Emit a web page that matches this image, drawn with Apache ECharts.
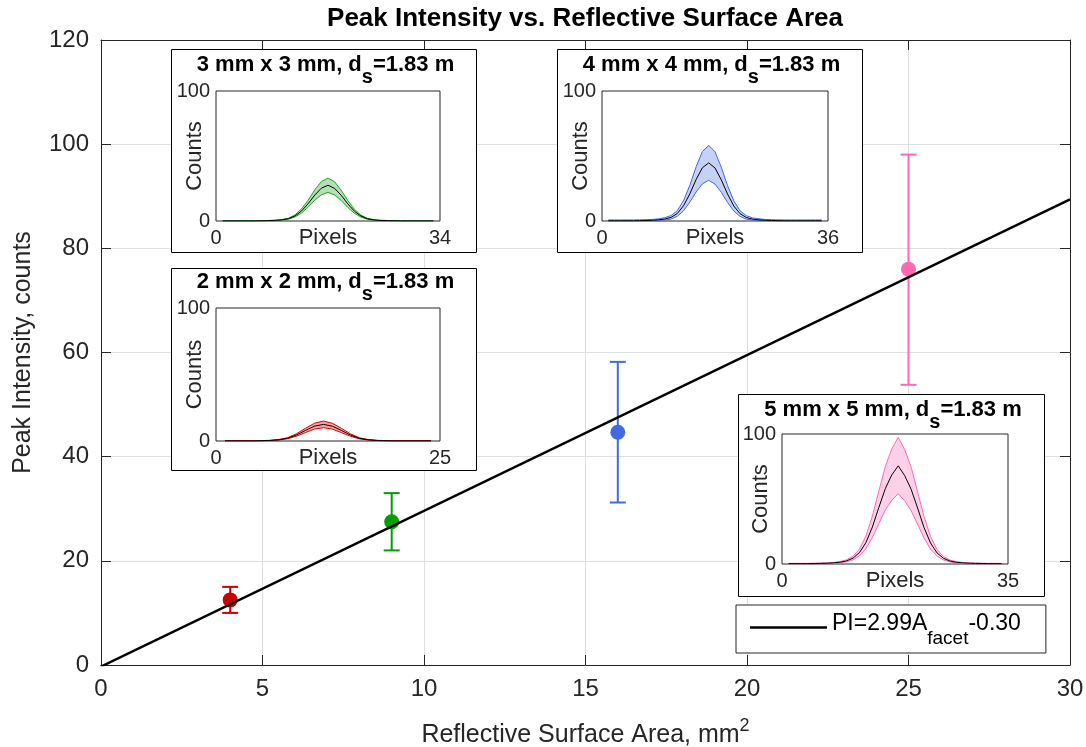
<!DOCTYPE html>
<html>
<head>
<meta charset="utf-8">
<title>Peak Intensity vs. Reflective Surface Area</title>
<script src="https://cdn.jsdelivr.net/npm/echarts@6/dist/echarts.min.js"></script>
<style>
  html, body { margin: 0; padding: 0; background: #fff; }
  #main { width: 1086px; height: 747px; }
</style>
</head>
<body>
<div id="main"></div>
<script>
// ---- main plot data ----
const area = [4, 9, 16, 25]            // facet area, mm^2
const peak = [12.5, 27.5, 44.7, 76.0]  // mean peak intensity
const peakLow = [10.0, 22.0, 31.2, 53.8]
const peakHigh = [15.0, 33.0, 58.2, 98.0]
const fitX = [0, 30]
const fitY = [-0.30, 89.40]
const fitLabel = 'PI=2.99A_facet-0.30'

// ---- inset profiles (counts per pixel, starting at pixel 1) ----
const pxMax2 = 25
const mean2 = [0.1,0.1,0.1,0.1,0.2,0.4,0.9,2.1,4.6,8.0,11.2,12.5,11.1,7.9,4.5,2.0,0.9,0.4,0.2,0.1,0.1,0.1,0.1,0.1]
const hi2 = [0.2,0.2,0.2,0.2,0.3,0.5,1.1,2.5,5.5,9.6,13.4,15.0,13.3,9.5,5.4,2.4,1.1,0.5,0.3,0.2,0.2,0.2,0.2,0.2]
const lo2 = [0,0,0,0,0.1,0.3,0.7,1.7,3.7,6.4,9.0,10.0,8.9,6.3,3.6,1.6,0.7,0.3,0.1,0,0,0,0,0]

const pxMax3 = 34
const mean3 = [0.1,0.1,0.1,0.1,0.1,0.1,0.2,0.3,0.5,0.9,1.8,3.9,7.8,13.4,20.0,25.3,27.5,25.1,19.8,13.2,7.6,3.8,1.7,0.8,0.4,0.3,0.2,0.1,0.1,0.1,0.1,0.1,0.1]
const hi3 = [0.2,0.2,0.2,0.2,0.2,0.2,0.3,0.4,0.6,1.1,2.2,4.7,9.4,16.1,24.0,30.4,33.0,30.2,23.7,15.8,9.1,4.5,2.1,1.0,0.6,0.4,0.3,0.2,0.2,0.2,0.2,0.2,0.2]
const lo3 = [0,0,0,0,0,0,0.1,0.2,0.4,0.7,1.4,3.1,6.2,10.7,16.0,20.2,22.0,20.0,15.8,10.5,6.0,3.0,1.3,0.6,0.3,0.2,0.1,0,0,0,0,0,0]

const pxMax4 = 36
const mean4 = [0.2,0.2,0.2,0.2,0.2,0.3,0.4,0.6,0.9,1.5,2.8,5.8,11.8,21.0,32.0,41.0,44.7,40.8,31.7,20.7,11.5,5.6,2.7,1.4,0.9,0.6,0.4,0.3,0.2,0.2,0.2,0.2,0.2,0.2,0.2]
const hi4 = [0.8,0.8,0.8,0.8,0.8,0.9,1.0,1.2,1.7,2.5,4.2,8.0,15.8,27.6,41.8,53.5,58.2,53.2,41.4,27.2,15.5,7.8,4.1,2.4,1.7,1.2,1.0,0.9,0.8,0.8,0.8,0.8,0.8,0.8,0.8]
const lo4 = [0,0,0,0,0,0,0.1,0.2,0.4,0.7,1.5,3.6,7.9,14.6,22.3,28.6,31.3,28.4,22.0,14.3,7.7,3.5,1.4,0.7,0.4,0.2,0.1,0,0,0,0,0,0,0,0]

const pxMax5 = 35
const mean5 = [0.3,0.3,0.3,0.3,0.4,0.5,0.6,0.9,1.4,2.4,4.5,8.8,16.5,28.5,43.5,58.0,68.5,75.5,68.0,57.5,43.0,28.0,16.2,8.6,4.4,2.3,1.3,0.9,0.6,0.5,0.4,0.3,0.3,0.3]
const hi5 = [0.5,0.5,0.5,0.5,0.6,0.7,0.9,1.2,1.9,3.2,6.0,11.5,21.5,37.0,56.0,75.0,88.5,97.5,88.0,74.5,55.5,36.5,21.0,11.2,5.8,3.1,1.8,1.2,0.9,0.7,0.6,0.5,0.5,0.5]
const lo5 = [0.1,0.1,0.1,0.1,0.2,0.3,0.4,0.6,1.0,1.7,3.2,6.3,11.8,20.4,31.0,41.5,49.0,54.0,48.6,41.0,30.6,20.0,11.5,6.1,3.1,1.6,0.9,0.6,0.4,0.3,0.2,0.1,0.1,0.1]

// ---- styling / layout ----
const FONT = '"Liberation Sans", Arial, Helvetica, sans-serif'
const AX = '#262626'
const GRIDC = '#dfdfdf'
const ptColors = ['#cc0000', '#00a000', '#4169e1', '#ff69b4']

const insets = [
  { size: '3 mm x 3 mm', maxX: pxMax3, mean: mean3, hi: hi3, lo: lo3, color: '#1fa61f', fill: '#b3e0b3',
    box: [171, 49, 305, 203], grid: [216, 91, 224, 130], titleY: 65 },
  { size: '4 mm x 4 mm', maxX: pxMax4, mean: mean4, hi: hi4, lo: lo4, color: '#4169e1', fill: '#c6d1f6',
    box: [557, 49, 305, 203], grid: [602, 91, 226, 130], titleY: 65 },
  { size: '2 mm x 2 mm', maxX: pxMax2, mean: mean2, hi: hi2, lo: lo2, color: '#e00000', fill: '#f4a8a8',
    box: [171, 268, 305, 202], grid: [216, 308, 224, 133], titleY: 282 },
  { size: '5 mm x 5 mm', maxX: pxMax5, mean: mean5, hi: hi5, lo: lo5, color: '#ff69b4', fill: '#ffd1e8',
    box: [738, 394, 306, 202], grid: [782, 434, 226, 130], titleY: 410 }
]

const chart = echarts.init(document.getElementById('main'))

const grids = [{ left: 101, top: 40, width: 969, height: 625, outerBoundsMode: 'none' }]
const xAxes = [
  {
    gridIndex: 0, type: 'value', min: 0, max: 30, interval: 5, position: 'bottom',
    axisLine: { show: true, onZero: false, lineStyle: { color: AX, width: 1 } },
    axisTick: { inside: true, length: 10, lineStyle: { color: AX } },
    axisLabel: { fontSize: 24, color: AX, margin: 12, fontFamily: FONT },
    splitLine: { show: true, lineStyle: { color: GRIDC, width: 1 } },
    name: '{a|Reflective Surface Area, mm}{sup|2}',
    nameLocation: 'middle', nameGap: 52, nameMoveOverlap: false,
    nameTextStyle: {
      verticalAlign: 'top',
      rich: {
        a: { fontSize: 25, color: AX, fontFamily: FONT },
        sup: { fontSize: 18, color: AX, fontFamily: FONT, padding: [0, 0, 18, 0] }
      }
    }
  },
  {
    gridIndex: 0, type: 'value', min: 0, max: 30, interval: 5, position: 'top',
    axisLine: { show: true, onZero: false, lineStyle: { color: AX, width: 1 } },
    axisTick: { inside: true, length: 10, lineStyle: { color: AX } },
    axisLabel: { show: false },
    splitLine: { show: false }
  }
]
const yAxes = [
  {
    gridIndex: 0, type: 'value', min: 0, max: 120, interval: 20, position: 'left',
    axisLine: { show: true, onZero: false, lineStyle: { color: AX, width: 1 } },
    axisTick: { inside: true, length: 10, lineStyle: { color: AX } },
    axisLabel: { fontSize: 24, color: AX, margin: 12, fontFamily: FONT },
    splitLine: { show: true, lineStyle: { color: GRIDC, width: 1 } },
    name: 'Peak Intensity, counts', nameLocation: 'middle', nameGap: 65, nameMoveOverlap: false,
    nameTextStyle: { fontSize: 25, color: AX, fontFamily: FONT }
  },
  {
    gridIndex: 0, type: 'value', min: 0, max: 120, interval: 20, position: 'right',
    axisLine: { show: true, onZero: false, lineStyle: { color: AX, width: 1 } },
    axisTick: { inside: true, length: 10, lineStyle: { color: AX } },
    axisLabel: { show: false },
    splitLine: { show: false }
  }
]

const series = [
  {
    name: 'errorbars', type: 'custom', xAxisIndex: 0, yAxisIndex: 0, z: 2, silent: true,
    data: area.map((a, i) => [a, peakLow[i], peakHigh[i]]),
    renderItem(params, api) {
      const lo = api.coord([api.value(0), api.value(1)])
      const hi = api.coord([api.value(0), api.value(2)])
      const hw = 8
      const st = { stroke: ptColors[params.dataIndex], lineWidth: 2 }
      return {
        type: 'group',
        children: [
          { type: 'line', shape: { x1: lo[0], y1: lo[1], x2: hi[0], y2: hi[1] }, style: st },
          { type: 'line', shape: { x1: lo[0] - hw, y1: lo[1], x2: lo[0] + hw, y2: lo[1] }, style: st },
          { type: 'line', shape: { x1: hi[0] - hw, y1: hi[1], x2: hi[0] + hw, y2: hi[1] }, style: st }
        ]
      }
    }
  },
  {
    name: 'points', type: 'scatter', xAxisIndex: 0, yAxisIndex: 0, z: 2, silent: true,
    symbol: 'circle', symbolSize: 15,
    data: area.map((a, i) => ({ value: [a, peak[i]], itemStyle: { color: ptColors[i], opacity: 1 } }))
  },
  {
    name: fitLabel, type: 'line', xAxisIndex: 0, yAxisIndex: 0, z: 3, silent: true,
    symbol: 'none', lineStyle: { color: '#000', width: 2.5 }, itemStyle: { color: '#000' },
    data: fitX.map((x, i) => [x, fitY[i]])
  }
]

const graphics = []

insets.forEach((ins, k) => {
  const gi = k + 1      // grid index (0 is the main plot)
  const ai = k + 2      // axis index (0 and 1 belong to the main plot)
  grids.push({
    left: ins.grid[0], top: ins.grid[1], width: ins.grid[2], height: ins.grid[3],
    outerBoundsMode: 'none',
    show: true, backgroundColor: '#fff', borderColor: AX, borderWidth: 1, z: 10
  })
  xAxes.push({
    gridIndex: gi, type: 'value', min: 0, max: ins.maxX, interval: ins.maxX, z: 10,
    axisLine: { show: false }, axisTick: { show: false }, splitLine: { show: false },
    axisLabel: { fontSize: 20, color: AX, margin: 7, fontFamily: FONT },
    name: 'Pixels', nameLocation: 'middle', nameGap: 6, nameMoveOverlap: false,
    nameTextStyle: { fontSize: 22, color: AX, fontFamily: FONT, verticalAlign: 'top' }
  })
  yAxes.push({
    gridIndex: gi, type: 'value', min: 0, max: 100, interval: 100, z: 10,
    axisLine: { show: false }, axisTick: { show: false }, splitLine: { show: false },
    axisLabel: { fontSize: 20, color: AX, margin: 6, fontFamily: FONT },
    name: 'Counts', nameLocation: 'middle', nameGap: 10, nameMoveOverlap: false,
    nameTextStyle: { fontSize: 22, color: AX, fontFamily: FONT }
  })
  const rows = ins.mean.map((m, i) => [i + 1, ins.lo[i], ins.hi[i]])
  series.push({
    type: 'custom', xAxisIndex: ai, yAxisIndex: ai, z: 11, silent: true,
    encode: { x: 0, y: [1, 2] },
    data: rows,
    renderItem(params, api) {
      if (params.dataIndex !== 0) return
      const top = ins.hi.map((v, i) => api.coord([i + 1, v]))
      const bot = ins.lo.map((v, i) => api.coord([i + 1, v])).reverse()
      return { type: 'polygon', shape: { points: top.concat(bot) }, style: { fill: ins.fill } }
    }
  })
  const edge = (vals, color, z) => ({
    type: 'line', xAxisIndex: ai, yAxisIndex: ai, z: z, silent: true, symbol: 'none',
    lineStyle: { color: color, width: 1 }, itemStyle: { color: color },
    data: vals.map((v, i) => [i + 1, v])
  })
  series.push(edge(ins.hi, ins.color, 12))
  series.push(edge(ins.lo, ins.color, 12))
  series.push(edge(ins.mean, '#000', 13))

  // outer frame of the inset
  graphics.push({
    type: 'rect', z: 3,
    shape: { x: ins.box[0] + 0.5, y: ins.box[1] + 0.5, width: ins.box[2], height: ins.box[3] },
    style: { fill: '#fff', stroke: '#000', lineWidth: 1 }
  })
  graphics.push({
    type: 'text', z: 20,
    x: ins.box[0] + ins.box[2] / 2 + 2, y: ins.titleY,
    style: {
      text: '{b|' + ins.size + ', d}{s|s}{b|=1.83 m}',
      textAlign: 'center', textVerticalAlign: 'middle', fill: '#000',
      rich: {
        b: { fontSize: 22, fontWeight: 'bold', fontFamily: FONT, fill: '#000' },
        s: { fontSize: 20, fontWeight: 'bold', fontFamily: FONT, fill: '#000', padding: [24, 0, 0, 0] }
      }
    }
  })
})

graphics.push({
  type: 'text', z: 20, x: 585, y: 19,
  style: {
    text: 'Peak Intensity vs. Reflective Surface Area',
    textAlign: 'center', textVerticalAlign: 'middle', fill: '#000',
    font: 'bold 26px ' + FONT
  }
})

chart.setOption({
  animation: false,
  backgroundColor: '#fff',
  grid: grids,
  xAxis: xAxes,
  yAxis: yAxes,
  series: series,
  graphic: graphics,
  legend: {
    data: [{ name: fitLabel, icon: 'rect' }],
    left: 736, top: 605,
    itemWidth: 77, itemHeight: 2.5,
    padding: [7, 25, 5, 14],
    backgroundColor: '#fff', borderColor: AX, borderWidth: 1,
    selectedMode: false, z: 5,
    formatter: () => '{m|PI=2.99A}{s|facet}{m|-0.30}',
    textStyle: {
      rich: {
        m: { fontSize: 23, color: '#000', fontFamily: FONT, padding: [0, 0, 8, 0] },
        s: { fontSize: 19, color: '#000', fontFamily: FONT, padding: [22, 0, 0, 0] }
      }
    }
  }
})
</script>
</body>
</html>
